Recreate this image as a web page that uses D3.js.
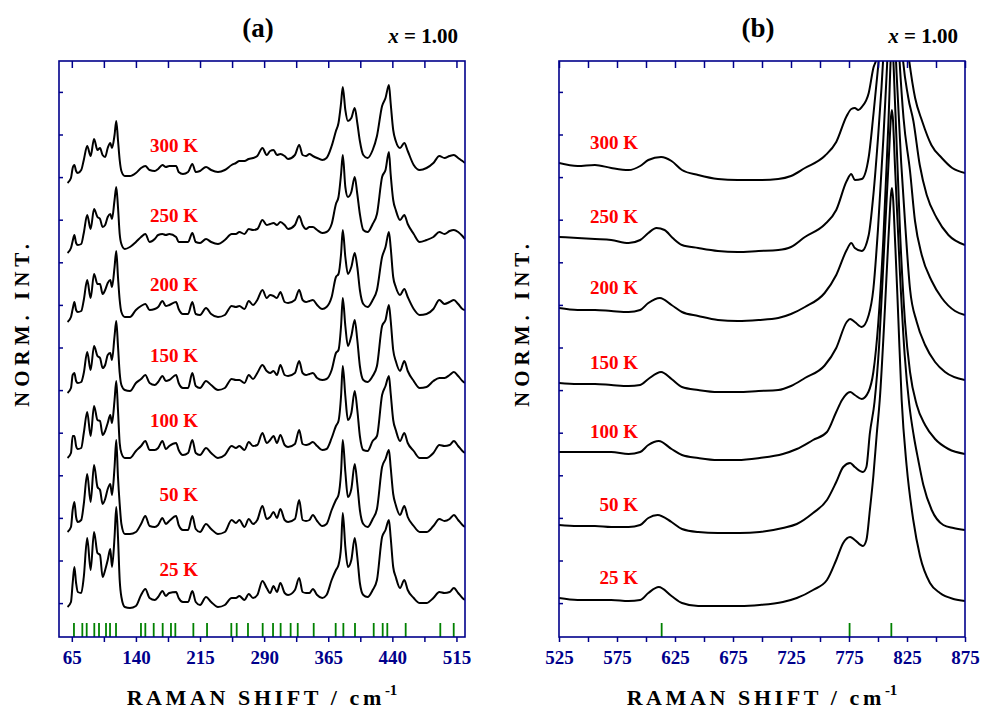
<!DOCTYPE html>
<html>
<head>
<meta charset="utf-8">
<script src="https://cdn.jsdelivr.net/npm/d3@7"></script>
<style>
body { margin: 0; background: #fff; }
svg text { font-family: "Liberation Serif", "Times New Roman", serif; font-weight: bold; }
</style>
</head>
<body>
<svg id="chart" width="982" height="713"></svg>
<script>
const temps = ['300 K', '250 K', '200 K', '150 K', '100 K', '50 K', '25 K'];

// panel (a): one raman shift grid, one intensity row per temperature
const shiftA = [60,64,66,68,70,72,76,79,83,87,91,95,98,101,104,107,110,112,115,117,119,121,123,127,133,140,146,151,156,162,
    166,171,175,179,187,190,195,201,206,210,215,222,228,236,244,252,257,261,267,272,277,282,288,293,297,301,305,309,314,318,
    326,331,335,339,343,347,352,358,363,369,374,377,380,382,385,388,392,396,399,402,406,411,417,422,428,432,436,438,441,444,
    449,454,458,465,472,480,488,495,501,507,512,517,522,525];

const a300 = [0,0.5,1.5,1.8,1.2,1.0,1.3,2.3,3.7,2.7, 4.4,3.3,3.5,2.8,2.6,3.5,4.0,3.5,4.8,6.2, 4.3,2.3,1.2,0.7,0.7,1.0,1.5,1.7,1.3,1.2,
    1.4,1.8,1.6,1.7,1.7,1.1,0.9,1.1,1.9,1.1, 1.2,1.6,1.3,1.1,1.3,1.8,2.0,2.2,2.2,2.4, 2.5,2.7,3.5,2.8,3.2,3.3,2.8,2.9,2.7,2.4,
    2.8,3.8,2.8,2.7,2.9,2.7,2.5,2.3,2.5,3.7, 5.2,6.0,8.0,9.6,7.3,6.2,6.5,7.5,6.0,4.2, 2.8,2.5,3.3,4.7,7.7,8.5,9.8,8.0,5.3,4.2,
    3.5,4.0,3.2,1.8,1.3,1.5,2.0,2.7,2.5,2.7, 2.8,2.5,2.2,2.0];
const a250 = [0,0.5,1.2,1.8,1.0,0.8,0.9,2.0,3.8,2.4, 4.4,3.6,3.4,2.6,2.8,3.6,3.9,3.4,5.3,6.6, 4.6,1.9,0.9,0.4,0.6,1.1,1.6,1.9,1.1,1.4,
    1.8,1.9,1.8,1.9,1.6,1.1,1.1,1.1,2.0,1.1, 1.0,1.4,1.1,0.9,1.3,1.9,1.9,2.1,1.9,2.4, 2.3,2.4,3.3,2.8,2.9,3.0,2.8,3.1,2.8,2.4,
    2.8,3.7,2.8,2.4,2.6,2.6,2.3,2.0,2.1,2.9, 4.9,5.6,7.9,9.8,6.6,5.6,6.1,7.6,5.9,3.9, 2.3,2.1,2.9,3.9,7.6,8.3,10.1,7.9,5.3,4.3,
    3.3,3.8,2.9,1.9,1.1,1.3,1.6,2.1,1.9,2.2, 2.3,2.1,1.7,1.4];
const a200 = [0,0.5,1.3,2.0,1.2,1.0,1.1,2.2,4.2,2.4, 4.8,3.8,3.8,2.8,3.2,3.9,4.2,3.5,5.5,7.1, 4.5,2.2,1.0,0.5,0.5,1.2,1.6,1.8,1.2,1.3,
    1.5,2.1,1.6,1.7,2.0,1.3,0.8,0.8,2.0,0.8, 0.7,1.4,0.8,0.5,0.7,1.6,1.5,1.6,1.3,2.1, 1.7,2.2,3.2,2.4,2.7,2.6,2.4,3.0,2.0,1.9,
    2.2,3.2,2.2,2.0,2.1,2.2,1.7,1.3,1.5,2.5, 4.5,4.8,6.8,9.2,6.5,4.8,5.5,6.9,5.5,3.2, 1.8,1.5,2.2,3.2,6.5,7.5,9.0,7.5,4.5,3.5,
    2.7,3.3,2.5,1.3,0.7,0.8,1.3,2.2,1.8,2.0, 2.2,1.8,1.3,1.2];
const a150 = [0,0.5,1.8,2.0,1.2,1.0,1.1,2.0,4.1,2.3, 4.7,3.7,3.5,2.5,2.8,3.8,4.0,3.3,5.7,7.2, 4.7,2.0,0.8,0.3,0.2,1.0,1.4,1.8,1.0,0.8,
    1.1,1.7,1.2,1.3,1.8,1.0,0.5,0.5,2.0,0.7, 0.5,1.2,0.8,0.3,0.5,1.4,1.3,1.3,1.0,1.8, 1.4,2.0,2.8,2.2,2.0,2.2,1.8,2.8,1.8,1.7,
    2.0,3.2,2.0,1.8,1.9,2.0,1.5,1.3,1.4,2.3, 4.0,4.3,6.7,9.5,6.7,4.7,5.7,7.3,5.3,2.7, 1.3,1.1,1.7,2.7,6.7,7.3,8.8,7.3,4.3,3.2,
    2.2,3.2,2.2,1.2,0.5,0.6,1.2,1.5,1.5,1.8, 2.1,1.7,1.2,1.0];
const a100 = [0,0.5,2.2,2.2,1.2,0.9,1.0,2.5,4.6,2.2, 5.2,3.8,3.7,2.3,2.7,3.5,4.3,3.5,5.8,7.7, 4.8,1.5,0.5,0,0,0.7,1.2,1.7,0.8,0.8,
    1.0,1.7,0.9,1.2,1.5,0.8,0.3,0.5,1.8,0.5, 0.3,1.0,0.5,0,0.3,1.2,1.0,1.2,0.8,1.6, 1.2,1.3,2.5,1.5,1.8,2.2,1.5,2.3,1.3,1.1,
    1.4,2.8,1.4,1.3,1.4,1.6,1.2,0.8,0.9,2.0, 3.2,3.7,6.2,9.2,6.2,3.8,4.5,6.7,4.8,2.2, 0.8,0.7,1.7,2.2,6.3,7.2,8.2,6.5,3.8,2.8,
    1.7,2.5,1.5,0.7,0.0,0.0,0.5,1.3,1.2,1.3, 1.7,1.2,0.7,0.5];
const a50 = [0,0.5,2.2,3.0,1.5,1.0,1.2,2.8,5.8,3.0, 6.7,4.5,4.2,2.8,3.3,4.3,4.8,3.7,6.5,9.2, 5.5,2.8,0.8,-0.2,-0.2,0.0,0.8,1.6,0.6,0.5,
    0.7,1.4,0.8,1.1,1.6,0.7,0.2,0.2,1.6,0.3, 0.0,0.8,0.3,-0.2,0.0,1.2,0.9,1.2,0.5,1.3, 0.8,1.2,2.6,1.3,1.5,2.0,1.4,2.3,1.2,1.0,
    1.3,3.2,1.2,1.1,1.2,1.7,1.1,0.6,0.8,2.2, 3.2,3.7,6.0,9.2,6.0,3.5,4.3,6.8,4.8,2.2, 0.8,0.5,1.3,2.3,6.5,7.3,8.2,6.5,3.8,2.7,
    1.7,2.6,1.5,0.6,0.0,0.0,0.6,1.3,1.1,1.3, 1.7,1.2,0.7,0.5];
const a25 = [0,0.5,2.4,4.0,2.4,1.5,1.4,3.0,6.9,3.7, 7.5,5.4,5.2,3.0,3.7,4.7,5.8,4.0,7.0,10.0, 7.0,2.7,1.0,0.0,-0.1,0.1,1.2,1.8,0.9,0.7,
    1.0,1.6,1.1,1.4,1.5,0.9,0.5,0.5,1.6,0.5, 0.2,1.0,0.5,0.0,0.2,0.9,0.9,1.1,0.7,1.3, 0.9,1.2,2.6,1.9,1.4,2.1,1.5,2.4,1.4,1.2,
    1.7,2.9,1.5,1.4,1.4,1.8,1.2,0.9,1.2,2.7, 3.7,4.2,6.0,9.4,6.0,4.0,4.7,6.9,5.0,2.4, 1.2,1.0,1.7,2.7,7.0,7.7,8.7,7.0,4.0,3.0,
    1.9,2.7,1.7,0.9,0.4,0.4,0.9,1.5,1.4,1.5, 1.9,1.4,0.9,0.7];

// vertical stacking offset of each trace (same order as temps)
const offsetsA = [45.4, 38.4, 31.5, 24.4, 17.9, 10.5, 3.0];

// panel (b): [raman shift, intensity] pairs
const b300 = [[525,0],[541,-0.3],[556,-0.2],[570,-0.5],[585,-0.7],[595,-0.3],[602,0.3],[613,0.6],[622,0.2],[631,-0.7],[645,-1.2],
    [662,-1.6],[679,-1.7],[697,-1.7],[714,-1.6],[725,-1.3],[737,-0.5],[754,0.7],[764,2.1],[773,4.7],[777,5.4],[780,5.5],[783,5.3],
    [786,5.6],[792,7.0],[796,9.5],[799,10.6],[803,15],[807,24],[812,41],[817,24],[822,15],[826,11],[832,6.5],[838,4.2],[846,1.8],
    [855,0.5],[864,-0.5],[875,-1.0]];
const b250 = [[525,0],[541,-0.1],[556,-0.2],[570,-0.3],[585,-0.6],[595,-0.3],[602,0.4],[609,0.9],[616,0.7],[623,-0.1],[631,-0.8],
    [645,-1.1],[662,-1.4],[679,-1.5],[697,-1.4],[714,-1.3],[725,-1.0],[737,0],[754,1.25],[764,2.7],[773,5.6],[777,6.3],[780,5.7],
    [786,5.8],[792,8.0],[796,12.2],[800,16.9],[804,22],[808,30],[812,41],[816,30],[820,20],[826,14],[830.5,11.6],[836,7.2],
    [842,4.2],[850.6,1.9],[860.7,0.2],[875,-0.8]];
const b200 = [[525,0],[541,-0.2],[556,-0.2],[570,-0.3],[585,-0.4],[595,-0.2],[602,0.5],[612,1.0],[622,0.3],[631,-0.4],[645,-0.8],
    [662,-1.2],[679,-1.3],[697,-1.2],[714,-1.0],[725,-0.6],[737,0.1],[754,1.5],[764,3.3],[773,5.8],[777,6.5],[780,6.0],[786,5.7],
    [792,7.3],[796,11.3],[800,17.0],[803,22],[806,28],[812,41],[817,28],[822,19],[827.6,13.7],[831.9,8.7],[837.7,5.3],
    [846.3,2.7],[855,1.0],[866.4,-0.3],[875,-0.7]];
const b150 = [[525,0],[541,-0.1],[556,-0.1],[570,-0.2],[585,-0.3],[595,-0.2],[602,0.4],[613,1.1],[622,0.4],[631,-0.4],[645,-0.7],
    [662,-0.9],[679,-0.9],[697,-0.8],[714,-0.7],[725,-0.3],[737,0.5],[754,1.75],[764,3.5],[773,6.1],[776,6.4],[780,6.1],[786,5.6],
    [792,6.8],[796,9.4],[800,15.4],[804.6,24.4],[807.5,31],[812,41],[816,31],[820,22],[823.3,16.1],[827.6,9.4],[833.4,6.1],
    [840.6,3.8],[849.2,2.1],[857.8,1.1],[875,0.3]];
const b100 = [[525,0],[541,0],[556,0],[570,0],[585,-0.2],[595,0],[602,0.7],[611,1.1],[622,0.3],[631,-0.3],[645,-0.6],[662,-0.8],
    [679,-0.8],[698,-0.6],[718,-0.2],[730,0.3],[744,1.2],[756,2.0],[764,4.0],[769,5.2],[776,6.0],[780,5.7],[786,5.3],[791.7,6.0],
    [796,8.0],[800.3,13.0],[804.6,21.3],[809,33],[812,41],[815,34],[819,22],[823.3,13.0],[827.6,8.0],[833.4,4.7],[840.6,2.7],
    [849.2,1.3],[860.7,0.3],[875,-0.2]];
const b50 = [[525,0],[541,-0.1],[556,-0.1],[570,-0.2],[585,-0.2],[595,0],[602,0.7],[610,1.0],[622,0.3],[631,-0.4],[645,-0.7],
    [662,-0.8],[681,-0.8],[698,-0.7],[718,-0.3],[730,0.1],[744,1.2],[756,2.5],[764,4.3],[770,5.8],[776,6.2],[780,5.8],[787,5.3],
    [790,5.8],[793,9.2],[797,12.3],[801,18],[805,27],[809,36],[812,41.5],[815,35],[819,25],[823,17],[827,12],[831,8.8],
    [834.7,6.5],[839.1,4.0],[846.3,1.5],[856.3,0],[865,-0.3],[875,-0.5]];
const b25 = [[525,0],[541,-0.2],[556,-0.2],[570,-0.2],[585,-0.3],[595,-0.2],[602,0.5],[611,1.1],[622,0.2],[631,-0.5],[645,-0.8],
    [663,-0.8],[681,-0.8],[698,-0.7],[718,-0.4],[730,0],[744,0.8],[756,1.8],[764,3.8],[770,5.5],[776,6.1],[780,5.8],[787,5.2],
    [790,5.8],[793,8.8],[796,12.2],[799,16.5],[801.5,19.8],[806,29],[809,36],[812,41],[815,35],[817.5,28],[820.4,19.8],
    [824.7,13.2],[830.4,7.8],[836.2,4.2],[844.8,1.5],[853.4,0.5],[865,-0.1],[875,-0.3]];

const offsetsB = [47.4, 40.0, 32.9, 25.4, 18.5, 11.2, 3.9];

// calculated mode positions (green markers)
const modesA = [67.5, 77.3, 82.4, 91.3, 96.8, 105, 109.7, 116.7, 145.9, 151, 160.8, 171.3, 181, 186.1, 207.2, 223.2,
    251.6, 257.9, 271.1, 288.3, 300.4, 309.3, 321, 329.3, 348, 373.7, 382.7, 396.3, 418.2, 428.7, 434.1, 455.6, 496.1, 511.8];
const modesB = [613.5, 775.5, 811.5];

const ticksA = [65, 140, 215, 290, 365, 440, 515];
const ticksB = [525, 575, 625, 675, 725, 775, 825, 875];

const TOP = 61;
const BOTTOM = 637;
const Y_DOMAIN = [0, 57.6];
const NAVY = '#00008b';

const svg = d3.select('#chart');

function drawPanel(p) {
    let x = d3.scaleLinear().domain(p.domain).range([p.left, p.right]);
    let y = d3.scaleLinear().domain(Y_DOMAIN).range([BOTTOM, TOP]);
    let g = svg.append('g');

    g.append('clipPath').attr('id', p.id + '-clip')
        .append('rect')
        .attr('x', p.left).attr('y', TOP)
        .attr('width', p.right - p.left).attr('height', BOTTOM - TOP);

    // green mode markers
    g.append('g').selectAll('line').data(p.modes).join('line')
        .attr('x1', d => x(d)).attr('x2', d => x(d))
        .attr('y1', y(0)).attr('y2', y(1.4))
        .attr('stroke', '#008000').attr('stroke-width', 1.8);

    // spectra
    let line = d3.line().x(d => x(d[0])).y(d => y(d[1])).curve(d3.curveMonotoneX);
    g.append('g').attr('clip-path', 'url(#' + p.id + '-clip)')
        .selectAll('path').data(p.series).join('path')
        .attr('d', d => line(d.points))
        .attr('fill', 'none')
        .attr('stroke', '#000')
        .attr('stroke-width', 2)
        .attr('stroke-linejoin', 'round');

    // temperature labels
    g.append('g').selectAll('text').data(p.series).join('text')
        .attr('x', p.left + p.labelX)
        .attr('y', d => y(d.offset + p.labelLift))
        .attr('text-anchor', 'end')
        .attr('fill', '#ff0000')
        .style('font-size', '19px')
        .text(d => d.name);

    // axes: ticks every minorStep, labels only on the main ticks
    let minor = d3.range(p.ticks[0], p.domain[1] + 0.01, p.minorStep);
    let bottomAxis = d3.axisBottom(x).tickValues(minor).tickSize(5).tickSizeOuter(0).tickPadding(9)
        .tickFormat(d => p.ticks.some(t => Math.abs(t - d) < 0.01) ? d : '');
    let gb = g.append('g').attr('transform', 'translate(0,' + BOTTOM + ')').call(bottomAxis);
    let topAxis = d3.axisTop(x).tickValues(minor).tickSize(-7).tickSizeOuter(0).tickFormat('');
    let gt = g.append('g').attr('transform', 'translate(0,' + TOP + ')').call(topAxis);
    let leftAxis = d3.axisLeft(y).tickValues(d3.range(3.39, 55, 4.26)).tickSize(-4).tickSizeOuter(0).tickFormat('');
    let gl = g.append('g').attr('transform', 'translate(' + p.left + ',0)').call(leftAxis);
    [gb, gt, gl].forEach(a => {
        a.select('.domain').remove();
        a.attr('font-family', null).attr('font-size', null);
        a.selectAll('line').attr('stroke', NAVY).attr('stroke-width', 1.5);
    });
    gb.selectAll('text').attr('fill', NAVY).style('font-size', '19px');

    g.append('rect')
        .attr('x', p.left).attr('y', TOP)
        .attr('width', p.right - p.left).attr('height', BOTTOM - TOP)
        .attr('fill', 'none').attr('stroke', NAVY).attr('stroke-width', 1.6);

    // titles
    let mid = (p.left + p.right) / 2;
    g.append('text').attr('x', mid - 4).attr('y', 37)
        .attr('text-anchor', 'middle').style('font-size', '27px').text(p.title);
    let comp = g.append('text').attr('x', p.right - 7).attr('y', 43)
        .attr('text-anchor', 'end').style('font-size', '21px');
    comp.append('tspan').style('font-style', 'italic').text('x');
    comp.append('tspan').text(' = 1.00');

    let xt = g.append('text').attr('x', mid).attr('y', 705)
        .attr('text-anchor', 'middle').style('font-size', '22px').style('letter-spacing', '3.6px');
    xt.append('tspan').text('RAMAN SHIFT / cm');
    xt.append('tspan').attr('dy', -10).style('font-size', '15px').style('letter-spacing', '0px').text('-1');

    g.append('text')
        .attr('transform', 'translate(' + (p.left - 30) + ',323) rotate(-90)')
        .attr('text-anchor', 'middle').style('font-size', '21px').style('letter-spacing', '5px')
        .text('NORM. INT.');
}

let rowsA = [a300, a250, a200, a150, a100, a50, a25];
let rowsB = [b300, b250, b200, b150, b100, b50, b25];

drawPanel({
    id: 'pa', title: '(a)', left: 59, right: 465, domain: [50, 525],
    ticks: ticksA, minorStep: 37.5, modes: modesA, labelX: 139, labelLift: 3.1,
    series: temps.map((name, i) => ({
        name: name, offset: offsetsA[i],
        points: shiftA.map((s, j) => [s, offsetsA[i] + rowsA[i][j]])
    }))
});

drawPanel({
    id: 'pb', title: '(b)', left: 559, right: 965, domain: [525, 875],
    ticks: ticksB, minorStep: 25, modes: modesB, labelX: 79, labelLift: 1.4,
    series: temps.map((name, i) => ({
        name: name, offset: offsetsB[i],
        points: rowsB[i].map(d => [d[0], offsetsB[i] + d[1]])
    }))
});
</script>
</body>
</html>
